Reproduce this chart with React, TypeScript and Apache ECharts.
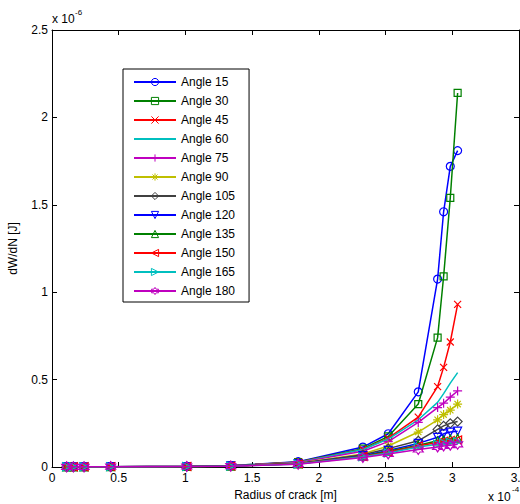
import React, { useEffect, useRef } from "react";
import * as echarts from "echarts";

// Radius of crack, in units of 1e-4 m (axis shows "x 10^-4")
const radius = [0.11, 0.16, 0.24, 0.44, 1.01, 1.34, 1.845, 2.33, 2.52, 2.745, 2.89, 2.935, 2.985, 3.04];

// dW/dN, in units of 1e-6 J (axis shows "x 10^-6")
const angle15 = [0.001, 0.001, 0.001, 0.002, 0.004, 0.008, 0.03, 0.114, 0.19, 0.43, 1.075, 1.46, 1.72, 1.81];
const angle30 = [0.001, 0.001, 0.001, 0.002, 0.004, 0.008, 0.028, 0.105, 0.175, 0.36, 0.74, 1.09, 1.54, 2.14];
const angle45 = [0.001, 0.001, 0.001, 0.002, 0.004, 0.007, 0.027, 0.1, 0.165, 0.285, 0.46, 0.57, 0.715, 0.93];
const angle60 = [0.001, 0.001, 0.001, 0.002, 0.004, 0.007, 0.026, 0.1, 0.16, 0.27, 0.37, 0.42, 0.48, 0.54];
const angle75 = [0.001, 0.001, 0.001, 0.002, 0.004, 0.007, 0.025, 0.09, 0.145, 0.255, 0.34, 0.365, 0.4, 0.435];
const angle90 = [0.001, 0.001, 0.001, 0.002, 0.003, 0.006, 0.022, 0.075, 0.12, 0.2, 0.27, 0.3, 0.325, 0.36];
const angle105 = [0.001, 0.001, 0.001, 0.002, 0.003, 0.006, 0.02, 0.07, 0.105, 0.15, 0.215, 0.235, 0.25, 0.26];
const angle120 = [0.001, 0.001, 0.001, 0.002, 0.003, 0.006, 0.019, 0.065, 0.095, 0.135, 0.17, 0.19, 0.2, 0.205];
const angle135 = [0.001, 0.001, 0.001, 0.002, 0.003, 0.005, 0.018, 0.062, 0.09, 0.125, 0.15, 0.155, 0.16, 0.165];
const angle150 = [0.001, 0.001, 0.001, 0.002, 0.003, 0.005, 0.018, 0.06, 0.085, 0.12, 0.14, 0.148, 0.152, 0.155];
const angle165 = [0.001, 0.001, 0.001, 0.002, 0.003, 0.005, 0.017, 0.058, 0.08, 0.115, 0.13, 0.137, 0.142, 0.145];
const angle180 = [0.001, 0.001, 0.001, 0.002, 0.003, 0.005, 0.016, 0.055, 0.075, 0.1, 0.115, 0.12, 0.125, 0.13];

const seriesNames = ["Angle 15", "Angle 30", "Angle 45", "Angle 60", "Angle 75", "Angle 90", "Angle 105", "Angle 120", "Angle 135", "Angle 150", "Angle 165", "Angle 180"];
const seriesValues = [angle15, angle30, angle45, angle60, angle75, angle90, angle105, angle120, angle135, angle150, angle165, angle180];

const xTicks = { min: 0, max: 3.5, interval: 0.5 };
const yTicks = { min: 0, max: 2.5, interval: 0.5 };

const C_BLUE = "#0000ff";
const C_GREEN = "#008000";
const C_RED = "#ff0000";
const C_CYAN = "#00bfbf";
const C_MAGENTA = "#bf00bf";
const C_YELLOW = "#bfbf00";
const C_GRAY = "#404040";

const X_PATH = "path://M0,0L10,10M10,0L0,10";
const PLUS_PATH = "path://M5,0L5,10M0,5L10,5";
const STAR_PATH = "path://M5,0L5,10M0,5L10,5M1.5,1.5L8.5,8.5M8.5,1.5L1.5,8.5";
const HEX_PATH = "path://M5,0L6.443,2.5L9.33,2.5L7.887,5L9.33,7.5L6.443,7.5L5,10L3.557,7.5L0.67,7.5L2.113,5L0.67,2.5L3.557,2.5Z";

const styles = [
  { color: C_BLUE, symbol: "circle", size: 8, rotate: 0 },
  { color: C_GREEN, symbol: "rect", size: 7, rotate: 0 },
  { color: C_RED, symbol: X_PATH, size: 7, rotate: 0 },
  { color: C_CYAN, symbol: "none", size: 0, rotate: 0 },
  { color: C_MAGENTA, symbol: PLUS_PATH, size: 9, rotate: 0 },
  { color: C_YELLOW, symbol: STAR_PATH, size: 9, rotate: 0 },
  { color: C_GRAY, symbol: "diamond", size: 9, rotate: 0 },
  { color: C_BLUE, symbol: "triangle", size: 8, rotate: 180 },
  { color: C_GREEN, symbol: "triangle", size: 8, rotate: 0 },
  { color: C_RED, symbol: "triangle", size: 8, rotate: 90 },
  { color: C_CYAN, symbol: "triangle", size: 8, rotate: -90 },
  { color: C_MAGENTA, symbol: HEX_PATH, size: 10, rotate: 0 },
];

const FONT = "Liberation Sans";

export default function App() {
  const ref = useRef<HTMLDivElement>(null);
  useEffect(() => {
    if (!ref.current) return;
    const chart = echarts.init(ref.current, null, { renderer: "svg" });
    const series = seriesNames.map((name, i) => {
      const s = styles[i];
      return {
        name,
        type: "line",
        data: radius.map((x, k) => [x, seriesValues[i][k]]),
        symbol: s.symbol,
        symbolSize: s.size,
        symbolRotate: s.rotate,
        showSymbol: s.symbol !== "none",
        lineStyle: { color: s.color, width: 1.5 },
        itemStyle: {
          color: "transparent",
          borderColor: s.color,
          borderWidth: s.symbol === "none" ? 0 : 1.2,
        },
        emphasis: { disabled: true },
        z: 2 + i,
      };
    });
    const axisCommon = {
      type: "value",
      axisLine: { show: true, onZero: false, lineStyle: { color: "#000", width: 1 } },
      axisTick: { show: true, inside: true, length: 5, lineStyle: { color: "#000", width: 1 } },
      splitLine: { show: false },
    };
    chart.setOption({
      animation: false,
      grid: { left: 52, top: 30, right: 1, bottom: 37, containLabel: false, outerBoundsMode: "none" },
      legend: {
        orient: "vertical",
        left: 123,
        top: 69,
        itemWidth: 42,
        itemHeight: 9,
        itemGap: 5,
        padding: [6, 14, 4, 10],
        backgroundColor: "#fff",
        borderColor: "#000",
        borderWidth: 1,
        borderRadius: 0,
        selectedMode: false,
        textStyle: { fontFamily: FONT, fontSize: 12, color: "#000", lineHeight: 14 },
        data: seriesNames.map((name, i) => ({
          name,
          itemStyle: { borderWidth: styles[i].symbol === "none" ? 0 : 1 },
        })),
      },
      xAxis: [
        {
          ...axisCommon,
          ...xTicks,
          position: "bottom",
          name: "Radius of crack [m]",
          nameLocation: "middle",
          nameGap: 17,
          nameTextStyle: { fontFamily: FONT, fontSize: 12, color: "#000" },
          axisLabel: { margin: 5, fontFamily: FONT, fontSize: 12, color: "#000", showMaxLabel: true },
        },
        {
          ...axisCommon,
          ...xTicks,
          position: "top",
          axisLabel: { show: false },
        },
      ],
      yAxis: [
        {
          ...axisCommon,
          ...yTicks,
          position: "left",
          name: "dW/dN [J]",
          nameLocation: "middle",
          nameGap: 33,
          nameTextStyle: { fontFamily: FONT, fontSize: 12, color: "#000" },
          axisLabel: { margin: 4, fontFamily: FONT, fontSize: 12, color: "#000" },
        },
        {
          ...axisCommon,
          ...yTicks,
          position: "right",
          axisLabel: { show: false },
        },
      ],
      graphic: [
        { type: "text", left: 52, top: 13, style: { text: "x 10", font: `12px "${FONT}"`, fill: "#000" } },
        { type: "text", left: 75, top: 8, style: { text: "-6", font: `8px "${FONT}"`, fill: "#000" } },
        { type: "text", left: 488, top: 491, style: { text: "x 10", font: `12px "${FONT}"`, fill: "#000" } },
        { type: "text", left: 512, top: 485, style: { text: "-4", font: `8px "${FONT}"`, fill: "#000" } },
      ],
      series,
    });
    return () => chart.dispose();
  }, []);
  return <div ref={ref} style={{ position: "absolute", left: 0, top: 0, width: 520, height: 504, background: "#fff" }} />;
}
